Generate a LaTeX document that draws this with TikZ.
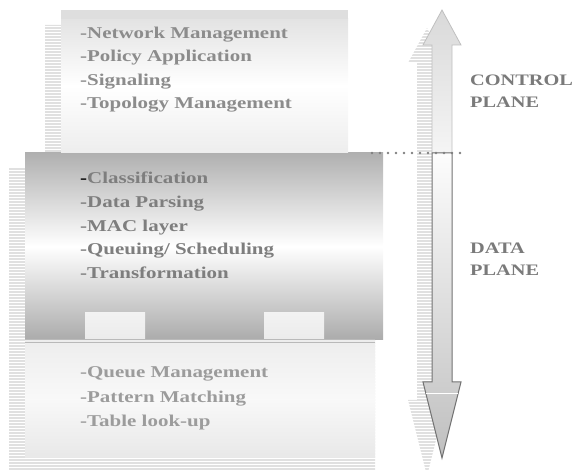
\documentclass[tikz,border=0pt]{standalone}
\usepackage{fontspec}
\setmainfont{Liberation Serif}[BoldFont={Liberation Serif Bold},FakeStretch=1.27,BoldFeatures={FakeStretch=1.27}]
\usetikzlibrary{positioning}
\definecolor{ctrltext}{HTML}{8C8C8C}
\definecolor{datatext}{HTML}{7E7E7E}
\definecolor{memtext}{HTML}{9C9C9C}
\definecolor{planetext}{HTML}{7A7A7A}
\definecolor{stripe}{HTML}{E0E0E0}

\begin{document}
\begin{tikzpicture}[x=1pt,y=-1pt,
    layer/.style={anchor=north west,inner sep=0pt,outer sep=0pt,minimum width=#1},
    items/.style={anchor=north west,inner sep=0pt,align=left,font=\fontsize{16.5}{#1}\selectfont\bfseries},
    plane/.style={anchor=north west,inner sep=0pt,align=left,text=planetext,font=\fontsize{16}{22}\selectfont\bfseries},
    stripes/.style={stripe,line width=1.4pt}
]
\useasboundingbox (0,0) rectangle (574,470);

% striped shadows
\begin{scope}
  \clip (45,25) rectangle (332,168) (9,168) rectangle (375,473);
  \foreach \y in {25,28,...,473} \draw[stripes] (0,\y) -- (400,\y);
\end{scope}
\begin{scope}
  \clip (427,28) -- (446,63) -- (437,63) -- (437,400) -- (446,400) -- (427,476) -- (408,400) -- (417,400) -- (417,63) -- (408,63) -- cycle;
  \foreach \y in {28,31,...,476} \draw[stripes] (400,\y) -- (450,\y);
\end{scope}

% layers
\node[layer=350pt,minimum height=118pt,top color=gray!14,bottom color=gray!18,middle color=gray!5] (mem) at (25,340) {};
\node[layer=358pt,minimum height=187pt,top color=gray!62,bottom color=gray!66,middle color=white] (data) at (25,153) {};
\node[layer=60pt,minimum height=27pt,top color=gray!10,bottom color=gray!16] (tab1) at (85,313) {};
\node[layer=60pt,minimum height=27pt,top color=gray!10,bottom color=gray!16] (tab2) at (264,313) {};
\node[layer=287pt,minimum height=134pt,top color=gray!22,bottom color=gray!14,middle color=white] (ctrl) at (61,19) {};
\node[layer=287pt,minimum height=9pt,fill=gray!26] (ctrltop) at (61,10) {};
\foreach \y in {339,342} \draw[gray!55,line width=0.6pt] (mem.west |- 0,\y) -- (mem.east |- 0,\y);

% texts
\node[items=23.6,text=ctrltext] (ctrltxt) at (80,26.5)
  {-Network Management\\-Policy Application\\-Signaling\\-Topology Management};
\node[items=23.7,text=datatext] (datatxt) at (80,172)
  {{\color{black}-}Classification\\-Data Parsing\\-MAC layer\\-Queuing/ Scheduling\\-Transformation};
\node[items=24.5,text=memtext] (memtxt) at (80,366.5)
  {-Queue Management\\-Pattern Matching\\-Table look-up};

% planes arrow
\shade[top color=gray!30,bottom color=gray!8,draw=gray!50,line width=0.8pt]
  (442,10) -- (461,45) -- (452,45) -- (452,153) -- (432,153) -- (432,45) -- (423,45) -- cycle;
\shade[top color=gray!2,bottom color=gray!50,draw=gray!110,line width=1pt]
  (432,153) -- (452,153) -- (452,382) -- (461,382) -- (442,458) -- (423,382) -- (432,382) -- cycle;
\draw[white,line width=0.8pt] (426,393) -- (458,393);

\coordinate (dl) at (372,153);
\coordinate (dr) at (466,153);
\draw[gray,line width=2.6pt,line cap=round,dash pattern=on 0pt off 8pt] (dl) -- (dr);

\node[plane] (cplane) at (470,75) {CONTROL\\PLANE};
\node[plane] (dplane) at (470,243) {DATA\\PLANE};
\end{tikzpicture}
\end{document}
